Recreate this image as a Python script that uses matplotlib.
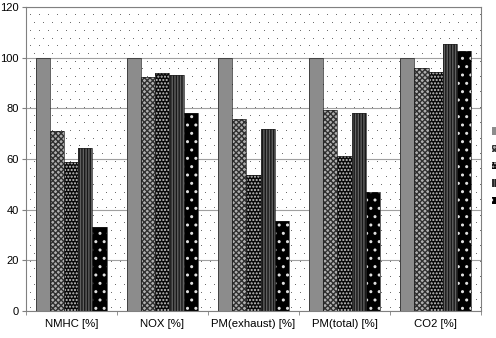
import numpy as np
import matplotlib.pyplot as plt

categories = ['NMHC [%]', 'NOX [%]', 'PM(exhaust) [%]', 'PM(total) [%]', 'CO2 [%]']
series_1 = [100, 100, 100, 100, 100]
series_2 = [71, 92.5, 76, 79.5, 96]
series_3 = [59, 94, 53.5, 61, 94.3]
series_4 = [64.5, 93, 72, 78, 105.6]
series_5 = [33, 78, 35.5, 47, 102.8]
yticks = [0, 20, 40, 60, 80, 100, 120]

plt.rcParams['font.family'] = ['Liberation Sans', 'DejaVu Sans']
plt.rcParams['hatch.linewidth'] = 1.0


def main():
    fig = plt.figure(figsize=(4.96, 3.38), dpi=100)
    ax = fig.add_axes([0.052, 0.080, 0.918, 0.899])

    # dotted background
    W, H = 455, 304
    xs, ys = [], []
    for j, yy in enumerate(np.arange(4, H, 7.7)):
        off = 0 if j % 2 == 0 else 4.5
        for xx in np.arange(4 + off, W, 9):
            xs.append(xx / W)
            ys.append(yy / H)
    ax.scatter(xs, ys, s=0.4, c='#555555', transform=ax.transAxes,
               zorder=0, linewidths=0)

    x = np.arange(len(categories))
    w = 0.155
    styles = [
        dict(color='#8c8c8c', hatch='', hc='#8c8c8c'),
        dict(color='#b0b0b0', hatch='xxxxxx', hc='#303030'),
        dict(color='#080808', hatch='.....', hc='#c8c8c8'),
        dict(color='#606060', hatch='||||||', hc='#181818'),
        dict(color='#000000', hatch='..', hc='#e0e0e0'),
    ]
    data = [series_1, series_2, series_3, series_4, series_5]
    handles = []
    for i, (vals, st) in enumerate(zip(data, styles)):
        pos = x + (i - 2) * w
        b = ax.bar(pos, vals, w, color=st['color'], hatch=st['hatch'],
                   edgecolor=st['hc'], linewidth=0, zorder=2)
        ax.bar(pos, vals, w, fill=False, edgecolor='#222222',
               linewidth=0.5, zorder=3)
        handles.append(b)

    ax.set_ylim(0, 120)
    ax.set_xlim(-0.5, len(categories) - 0.5)
    ax.set_yticks(yticks)
    ax.yaxis.grid(True, color='#a0a0a0', linewidth=0.8, zorder=1)
    ax.set_axisbelow(True)
    ax.set_xticks(x)
    ax.set_xticklabels(categories)
    ax.tick_params(axis='x', length=0, labelsize=8.2, pad=6)
    ax.set_xticks(np.arange(-0.5, len(categories), 1), minor=True)
    ax.tick_params(axis='x', which='minor', length=3, color='#808080')
    ax.tick_params(axis='y', labelsize=8, length=3, pad=2, color='#808080')
    for s in ax.spines.values():
        s.set_color('#808080')

    fig.legend(handles, ['', '', '', '', ''], loc='upper left',
               bbox_to_anchor=(0.982, 0.64), frameon=False,
               handlelength=0.8, handleheight=0.8, labelspacing=0.75,
               borderpad=0, handletextpad=0.3, fontsize=7)

    fig.savefig('out.png', dpi=100)


if __name__ == '__main__':
    main()
